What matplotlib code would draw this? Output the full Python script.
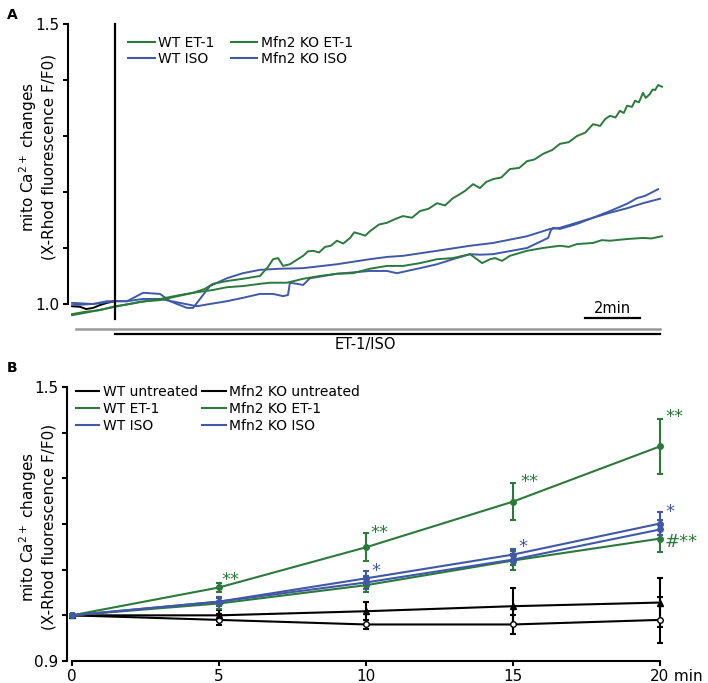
import numpy as np
import matplotlib.pyplot as plt
from matplotlib.lines import Line2D

GREEN = "#2b7a3b"
BLUE = "#4058a8"

# ---- panel A: live traces (time in min, F/F0) ----
pre_t = [-1.56, -1.27, -1.05, -0.80, -0.55, -0.29, 0.0]
pre_v = [0.996, 0.995, 0.991, 0.993, 0.998, 1.002, 1.005]

wt_et1_t = [-1.56, -1.09, -0.55, 0.0, 0.55, 1.09, 1.64, 2.36, 2.84, 3.27, 3.56, 4.07, 4.65,
            5.27, 5.56, 5.75, 5.93, 6.11, 6.36, 6.84, 7.02, 7.20, 7.42, 7.64, 7.85, 8.07,
            8.30, 8.55, 8.70, 8.91, 9.10, 9.27, 9.60, 9.89, 10.20, 10.47, 10.80, 11.09,
            11.40, 11.71, 12.00, 12.29, 12.50, 12.73, 13.02, 13.27, 13.50, 13.75, 14.05,
            14.36, 14.70, 14.98, 15.25, 15.56, 15.90, 16.18, 16.50, 16.80, 17.10, 17.38,
            17.64, 17.82, 18.00, 18.20, 18.36, 18.50, 18.62, 18.80, 18.91, 19.05, 19.20,
            19.30, 19.45, 19.55, 19.64, 19.75, 19.89]
wt_et1_v = [0.982, 0.986, 0.989, 0.996, 1.000, 1.005, 1.009, 1.016, 1.020, 1.027, 1.036,
            1.041, 1.045, 1.050, 1.066, 1.080, 1.082, 1.068, 1.071, 1.086, 1.094, 1.095,
            1.092, 1.102, 1.104, 1.113, 1.108, 1.118, 1.128, 1.125, 1.122, 1.130, 1.142,
            1.145, 1.152, 1.157, 1.154, 1.166, 1.170, 1.180, 1.176, 1.189, 1.195, 1.202,
            1.214, 1.207, 1.218, 1.223, 1.226, 1.241, 1.243, 1.255, 1.258, 1.268, 1.275,
            1.286, 1.289, 1.300, 1.306, 1.321, 1.318, 1.330, 1.336, 1.333, 1.345, 1.341,
            1.354, 1.352, 1.363, 1.360, 1.377, 1.368, 1.375, 1.383, 1.382, 1.391, 1.388]

ko_et1_t = [-1.56, -0.91, 0.0, 0.91, 1.64, 2.84, 3.56, 4.07, 4.65, 5.27, 5.64, 6.25, 6.84,
            7.45, 8.07, 8.65, 9.27, 9.89, 10.47, 11.09, 11.71, 12.29, 12.91, 13.16, 13.35,
            13.64, 13.82, 14.07, 14.36, 14.98, 15.56, 16.18, 16.50, 16.80, 17.38, 17.70,
            18.00, 18.62, 19.20, 19.50, 19.89]
ko_et1_v = [0.980, 0.986, 0.995, 1.004, 1.007, 1.020, 1.025, 1.030, 1.032, 1.036, 1.038,
            1.038, 1.045, 1.050, 1.054, 1.055, 1.063, 1.068, 1.068, 1.073, 1.080, 1.082,
            1.089, 1.080, 1.073, 1.080, 1.082, 1.077, 1.086, 1.095, 1.100, 1.104, 1.102,
            1.107, 1.109, 1.114, 1.113, 1.116, 1.118, 1.117, 1.121]

wt_iso_t = [-1.56, -0.80, -0.29, 0.44, 1.02, 1.64, 2.00, 2.62, 2.84, 3.09, 3.45, 4.07, 4.65,
            5.27, 6.00, 6.84, 8.07, 9.27, 9.89, 10.47, 11.71, 12.91, 13.75, 14.98, 15.82,
            16.18, 17.38, 18.00, 18.62, 19.20, 19.82]
wt_iso_v = [1.002, 1.000, 1.005, 1.005, 1.020, 1.018, 1.005, 0.993, 0.993, 1.009, 1.032,
            1.046, 1.055, 1.061, 1.063, 1.064, 1.071, 1.080, 1.084, 1.086, 1.095, 1.104,
            1.109, 1.121, 1.134, 1.136, 1.154, 1.163, 1.171, 1.180, 1.188]

ko_iso_t = [-1.56, -0.80, 0.0, 0.44, 1.02, 1.64, 2.36, 2.98, 3.45, 4.07, 4.65, 5.27, 5.75,
            6.11, 6.29, 6.36, 6.62, 6.84, 7.09, 8.07, 9.27, 9.89, 10.25, 11.09, 11.71,
            12.29, 12.91, 13.27, 13.75, 14.98, 15.75, 15.85, 15.93, 16.18, 16.80, 17.38,
            18.00, 18.62, 18.98, 19.27, 19.75]
ko_iso_v = [0.998, 1.000, 1.005, 1.005, 1.009, 1.009, 1.002, 0.996, 1.000, 1.005, 1.011,
            1.018, 1.018, 1.014, 1.016, 1.038, 1.036, 1.034, 1.046, 1.054, 1.059, 1.059,
            1.055, 1.064, 1.071, 1.080, 1.089, 1.088, 1.089, 1.100, 1.118, 1.132, 1.136,
            1.134, 1.143, 1.154, 1.166, 1.179, 1.189, 1.193, 1.205]

# ---- panel B: means and SEM ----
times = [0, 5, 10, 15, 20]
wt_untr = [1.0, 1.0, 1.009, 1.02, 1.028]
wt_untr_err = [0, 0.012, 0.02, 0.04, 0.053]
ko_untr = [1.0, 0.99, 0.98, 0.98, 0.99]
ko_untr_err = [0, 0.012, 0.01, 0.02, 0.05]
wt_et1 = [1.0, 1.061, 1.149, 1.249, 1.370]
wt_et1_err = [0, 0.01, 0.031, 0.04, 0.06]
ko_et1 = [1.0, 1.026, 1.066, 1.120, 1.168]
ko_et1_err = [0, 0.012, 0.015, 0.02, 0.03]
wt_iso = [1.0, 1.03, 1.081, 1.133, 1.201]
wt_iso_err = [0, 0.01, 0.015, 0.012, 0.025]
ko_iso = [1.0, 1.03, 1.072, 1.122, 1.188]
ko_iso_err = [0, 0.01, 0.015, 0.012, 0.02]

plt.rcParams['font.family'] = 'DejaVu Sans'
fig = plt.figure(figsize=(7.08, 6.83), dpi=100)

# ================= A =================
ax1 = fig.add_axes([0.0960, 0.5016, 0.8433, 0.4633])
ax1.plot(pre_t, pre_v, color="black", lw=1.4)
ax1.plot(ko_iso_t, ko_iso_v, color=BLUE, lw=1.4)
ax1.plot(wt_iso_t, wt_iso_v, color=BLUE, lw=1.4)
ax1.plot(ko_et1_t, ko_et1_v, color=GREEN, lw=1.4)
ax1.plot(wt_et1_t, wt_et1_v, color=GREEN, lw=1.4)
ax1.plot([0, 0], [0.973, 1.5], color="black", lw=1.6, clip_on=False)
ax1.set_xlim(-1.71, 20.0)
ax1.set_ylim(0.935, 1.5)
for s in ["top", "right", "bottom"]:
    ax1.spines[s].set_visible(False)
ax1.spines["left"].set_bounds(1.0, 1.5)
ax1.spines["left"].set_linewidth(1.5)
ax1.set_xticks([])
ax1.set_yticks([1.0, 1.1, 1.2, 1.3, 1.4, 1.5])
ax1.set_yticklabels(["1.0", "", "", "", "", "1.5"])
ax1.tick_params(axis="y", length=3.5, width=1.5, labelsize=11, pad=3)

# stimulus bars and scale bar
ax1.plot([-1.42, 19.82], [0.955, 0.955], color="#999999", lw=1.8, clip_on=False)
ax1.plot([0, 19.82], [0.946, 0.946], color="black", lw=1.6, clip_on=False)
ax1.text(9.1, 0.927, "ET-1/ISO", ha="center", va="center", fontsize=10.5)
ax1.plot([17.09, 19.09], [0.975, 0.975], color="black", lw=1.6)
ax1.text(18.09, 0.979, "2min", ha="center", va="bottom", fontsize=10.5)

h1 = [Line2D([], [], color=GREEN, lw=1.5), Line2D([], [], color=BLUE, lw=1.5),
      Line2D([], [], color=GREEN, lw=1.5), Line2D([], [], color=BLUE, lw=1.5)]
fig.legend(h1, ["WT ET-1", "WT ISO", "Mfn2 KO ET-1", "Mfn2 KO ISO"], ncol=2,
           loc="upper left", bbox_to_anchor=(0.181, 0.948), frameon=False,
           fontsize=10, handlelength=1.9, handletextpad=0.25, columnspacing=1.2,
           labelspacing=0.15, borderpad=0, borderaxespad=0)

# ================= B =================
ax2 = fig.add_axes([0.0946, 0.0322, 0.8376, 0.4012])
kw = dict(lw=1.5, capsize=2.5, elinewidth=1.5, capthick=1.5, ms=4, clip_on=False)
ax2.errorbar(times, ko_untr, yerr=ko_untr_err, color="black", marker="o", mfc="white", **kw)
ax2.errorbar(times, wt_untr, yerr=wt_untr_err, color="black", marker="^", **kw)
ax2.errorbar(times, ko_et1, yerr=ko_et1_err, color=GREEN, marker="o", **kw)
ax2.errorbar(times, wt_et1, yerr=wt_et1_err, color=GREEN, marker="o", **kw)
ax2.errorbar(times, ko_iso, yerr=ko_iso_err, color=BLUE, marker="o", **kw)
ax2.errorbar(times, wt_iso, yerr=wt_iso_err, color=BLUE, marker="o", **kw)

ax2.set_xlim(-0.17, 20.0)
ax2.set_ylim(0.9, 1.5)
for s in ["top", "right"]:
    ax2.spines[s].set_visible(False)
ax2.spines["left"].set_bounds(0.9, 1.5)
ax2.spines["bottom"].set_bounds(0, 20)
ax2.spines["left"].set_linewidth(1.5)
ax2.spines["bottom"].set_linewidth(1.5)
ax2.set_yticks([0.9, 1.0, 1.1, 1.2, 1.3, 1.4, 1.5])
ax2.set_yticklabels(["0.9", "", "", "", "", "", "1.5"])
ax2.set_xticks(times)
ax2.set_xticklabels(["0", "5", "10", "15", "20"])
ax2.tick_params(axis="both", length=3.5, width=1.5, labelsize=11, pad=2)
ax2.tick_params(axis="y", pad=3)
ax2.annotate(" min", xy=(20, 0), xycoords=("data", "axes fraction"),
             xytext=(6.5, -5.5), textcoords="offset points", ha="left", va="top",
             fontsize=11)

# significance marks
ax2.text(5.10, 1.067, "**", color=GREEN, fontsize=13)
ax2.text(10.14, 1.170, "**", color=GREEN, fontsize=13)
ax2.text(10.20, 1.087, "*", color=BLUE, fontsize=13)
ax2.text(15.24, 1.282, "**", color=GREEN, fontsize=13)
ax2.text(15.17, 1.139, "*", color=BLUE, fontsize=13)
ax2.text(20.20, 1.424, "**", color=GREEN, fontsize=13)
ax2.text(20.17, 1.216, "*", color=BLUE, fontsize=13)
ax2.text(20.17, 1.150, "#**", color=GREEN, fontsize=13)

h2 = [Line2D([], [], color="black", lw=1.5), Line2D([], [], color=GREEN, lw=1.5),
      Line2D([], [], color=BLUE, lw=1.5), Line2D([], [], color="black", lw=1.5),
      Line2D([], [], color=GREEN, lw=1.5), Line2D([], [], color=BLUE, lw=1.5)]
fig.legend(h2, ["WT untreated", "WT ET-1", "WT ISO", "Mfn2 KO untreated",
                "Mfn2 KO ET-1", "Mfn2 KO ISO"], ncol=2,
           loc="upper left", bbox_to_anchor=(0.107, 0.436), frameon=False,
           fontsize=10, handlelength=1.7, handletextpad=0.25, columnspacing=0.3,
           labelspacing=0.2, borderpad=0, borderaxespad=0)

# axis labels and panel letters
ylab = "mito Ca$^{2+}$ changes\n(X-Rhod fluorescence F/F0)"
fig.text(0.052, 0.770, ylab, rotation=90, ha="center", va="center", fontsize=11,
         multialignment="center")
fig.text(0.052, 0.228, ylab, rotation=90, ha="center", va="center", fontsize=11,
         multialignment="center")
fig.text(0.010, 0.988, "A", fontsize=10, fontweight="bold", va="top")
fig.text(0.010, 0.472, "B", fontsize=10, fontweight="bold", va="top")

plt.savefig("out.png", dpi=100)
